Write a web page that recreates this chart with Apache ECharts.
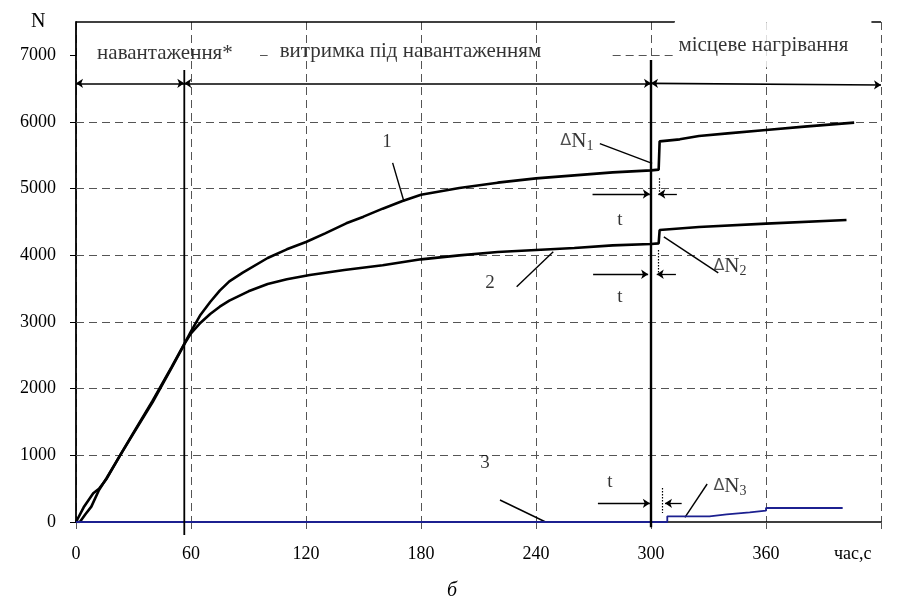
<!DOCTYPE html>
<html>
<head>
<meta charset="utf-8">
<script src="https://cdn.jsdelivr.net/npm/echarts@6/dist/echarts.min.js"></script>
<style>
  html, body { margin: 0; padding: 0; background: #fff; }
  #chart { width: 899px; height: 616px; }
</style>
</head>
<body>
<div id="chart"></div>
<script>
// ---- дані ----
var xTicks = [0, 60, 120, 180, 240, 300, 360];
var yTicks = [0, 1000, 2000, 3000, 4000, 5000, 6000, 7000];
var gridY = [1000, 2000, 3000, 4000, 5000, 6000];

// крива 1
var curve1 = [[0,0],[4,220],[9,430],[12,500],[16,650],[23,1000],[30,1340],[40,1820],[50,2330],[57,2700],
  [60,2860],[65,3110],[70,3300],[75,3470],[80,3610],[87,3740],[100,3960],[110,4090],[120,4200],[130,4330],
  [141,4480],[150,4580],[160,4700],[170,4810],[180,4910],[200,5010],[220,5090],[240,5155],[260,5200],
  [280,5245],[300,5275],[304,5285],[304.5,5710],[315,5740],[325,5790],[340,5830],[360,5880],[380,5930],[406,5990]];
// крива 2
var curve2 = [[0,0],[2,0],[5,120],[8,230],[12,480],[16,660],[23,1000],[30,1330],[40,1800],[50,2320],[57,2690],
  [60,2830],[65,2990],[70,3120],[75,3230],[80,3320],[90,3460],[100,3570],[110,3640],[122,3705],[140,3780],
  [160,3850],[180,3940],[200,4000],[220,4050],[240,4080],[260,4110],[280,4150],[300,4170],[304,4180],
  [304.5,4380],[325,4425],[360,4475],[402,4530]];
// крива 3
var curve3 = [[0,0],[308.5,0],[308.5,85],[330.5,85],[330.5,115],[339.5,115],[339.5,145],[351.5,145],
  [351.5,170],[360,170],[360,210],[400,210]];

// вертикальні межі етапів: [x, верх, низ]
var phaseLines = [[56.5, 6780, -195], [300, 6930, -80]];
// горизонтальна стрілка етапів: [x1, x2, y1, y2]
var spanArrows = [[0, 56.5, 6580, 6580], [56.5, 300, 6580, 6580], [300, 420, 6580, 6555]];
// верхня рамка (7500) та уривки лінії 7000
var topBorder = [[0, 312.5], [415, 420]];
var grid7000 = [[280, 311.5], [96, 100]];

// виноски: [x1, y1, x2, y2]
var leaders = [[165.2,5387,171.1,4808],[229.9,3528,249,4053],[221.2,330,245,0],
  [273.3,5677,300.6,5378],[306.7,4277,335.1,3738],[329.3,570,317.7,70]];

// інтервали t: y, стрілка праворуч [x1,x2], стрілка ліворуч [x1,x2], пунктир x, [y1,y2]
var tY = [4920, 3716, 280];
var tRight = [[269.5,299.4],[269.8,298.5],[272.3,299.4]];
var tLeft = [[313.5,303.8],[313,303],[316,307.3]];
var tDotX = [304.3, 304, 306];
var tDotY = [[5155,4905],[4080,3705],[510,135]];

// підписи: [текст, x, y]
var curveLabels = [['1',162.2,5700],['2',216,3585],['3',213.4,885],
  ['t',283.8,4530],['t',283.8,3375],['t',278.6,600]];
var deltaLabels = [['1',261.3,5715],['2',341.2,3840],['3',341.2,540]];
var phaseLabels = [['навантаження*',46.4,7030],['витримка під навантаженням',174.5,7060]];
var heatLabel = ['місцеве нагрівання', 360.2, 7160];

var FONT = '"Liberation Serif", "DejaVu Serif", serif';
var GRID = '#555';

function seg(x1, y1, x2, y2, style, s1, s2) {
  return [
    { coord: [x1, y1], symbol: s1 || 'none', lineStyle: style },
    { coord: [x2, y2], symbol: s2 || 'none' }
  ];
}

var marks = [];
gridY.forEach(function (v) {
  marks.push(seg(0, v, 420, v, { color: GRID, width: 1, type: [8, 5] }));
});
grid7000.forEach(function (r) {
  marks.push(seg(r[0], 7000, r[1], 7000, { color: GRID, width: 1, type: [8, 5] }));
});
topBorder.forEach(function (r) {
  marks.push(seg(r[0], 7500, r[1], 7500, { color: '#000', width: 1.5, type: 'solid' }));
});
spanArrows.forEach(function (a) {
  marks.push(seg(a[0], a[2], a[1], a[3], { color: '#000', width: 1.6, type: 'solid' }, 'arrow', 'arrow'));
});
leaders.forEach(function (l) {
  marks.push(seg(l[0], l[1], l[2], l[3], { color: '#000', width: 1.4, type: 'solid' }));
});
tY.forEach(function (y, i) {
  marks.push(seg(tRight[i][0], y, tRight[i][1], y, { color: '#000', width: 1.3, type: 'solid' }, 'none', 'arrow'));
  marks.push(seg(tLeft[i][0], y, tLeft[i][1], y, { color: '#000', width: 1.3, type: 'solid' }, 'none', 'arrow'));
  marks.push(seg(tDotX[i], tDotY[i][0], tDotX[i], tDotY[i][1], { color: '#000', width: 1.2, type: [1.5, 1.5] }));
});

var textPoints = [];
curveLabels.forEach(function (l) {
  textPoints.push({ value: [l[1], l[2]], label: { formatter: l[0] } });
});
phaseLabels.forEach(function (l) {
  textPoints.push({ value: [l[1], l[2]], label: { formatter: l[0], fontSize: 21 } });
});
deltaLabels.forEach(function (l) {
  textPoints.push({ value: [l[1], l[2]], label: { formatter: '{d|\u0394}{n|N}{s|' + l[0] + '}' } });
});
textPoints.push({
  value: [heatLabel[1], heatLabel[2]],
  label: { formatter: heatLabel[0], fontSize: 21, backgroundColor: '#fff', padding: [13, 10, 11, 4] }
});

var series = [
  { name: 'aux', type: 'line', data: [], silent: true,
    markLine: { silent: true, animation: false, symbolSize: 7, label: { show: false }, data: marks } },
  { name: '1', type: 'line', data: curve1, showSymbol: false, z: 5,
    lineStyle: { color: '#000', width: 2.6 } },
  { name: '2', type: 'line', data: curve2, showSymbol: false, z: 5,
    lineStyle: { color: '#000', width: 2.6 } },
  { name: '3', type: 'line', data: curve3, showSymbol: false, z: 5,
    lineStyle: { color: '#1c2090', width: 1.8 } }
];
phaseLines.forEach(function (p, i) {
  series.push({ type: 'line', data: [[p[0], p[1]], [p[0], p[2]]], clip: false, showSymbol: false, z: 6,
    lineStyle: { color: '#000', width: i === 0 ? 1.8 : 2.4 } });
});
series.push({
  type: 'scatter', data: textPoints, symbolSize: 0, z: 10, silent: true,
  label: {
    show: true, position: 'inside', color: '#000', fontFamily: FONT, fontSize: 19,
    rich: {
      d: { fontFamily: '"DejaVu Sans", sans-serif', fontSize: 16, color: '#222' },
      n: { fontFamily: FONT, fontSize: 21 },
      s: { fontFamily: FONT, fontSize: 14, padding: [11, 0, 0, 0] }
    }
  }
});

var myChart = echarts.init(document.getElementById('chart'));
myChart.setOption({
  animation: false,
  backgroundColor: '#fff',
  grid: { left: 76, right: 18, top: 22, bottom: 94 },
  xAxis: {
    type: 'value', min: 0, max: 420, interval: 60,
    axisLine: { lineStyle: { color: '#000', width: 1.5 } },
    axisTick: { length: 7, lineStyle: { color: GRID } },
    axisLabel: { customValues: xTicks, margin: 23, color: '#000', fontFamily: FONT, fontSize: 18,
      formatter: function (v) { return String(v); } },
    splitLine: { show: true, lineStyle: { color: GRID, width: 1, type: [8, 5] } }
  },
  yAxis: {
    type: 'value', min: 0, max: 7500, interval: 1000,
    axisLine: { show: true, lineStyle: { color: '#000', width: 1.8 } },
    axisTick: { show: true, customValues: yTicks, length: 6, lineStyle: { color: '#000' } },
    axisLabel: { customValues: yTicks, margin: 20, color: '#000', fontFamily: FONT, fontSize: 18,
      formatter: function (v) { return String(v); } },
    splitLine: { show: false }
  },
  graphic: [
    { type: 'text', left: 31, top: 12, style: { text: 'N', font: '20px ' + FONT, fill: '#000' } },
    { type: 'text', left: 834, top: 545, style: { text: 'час,с', font: '18px ' + FONT, fill: '#000' } },
    { type: 'text', left: 447, top: 581, style: { text: 'б', font: 'italic 20px ' + FONT, fill: '#000' } }
  ],
  series: series
});
</script>
</body>
</html>
